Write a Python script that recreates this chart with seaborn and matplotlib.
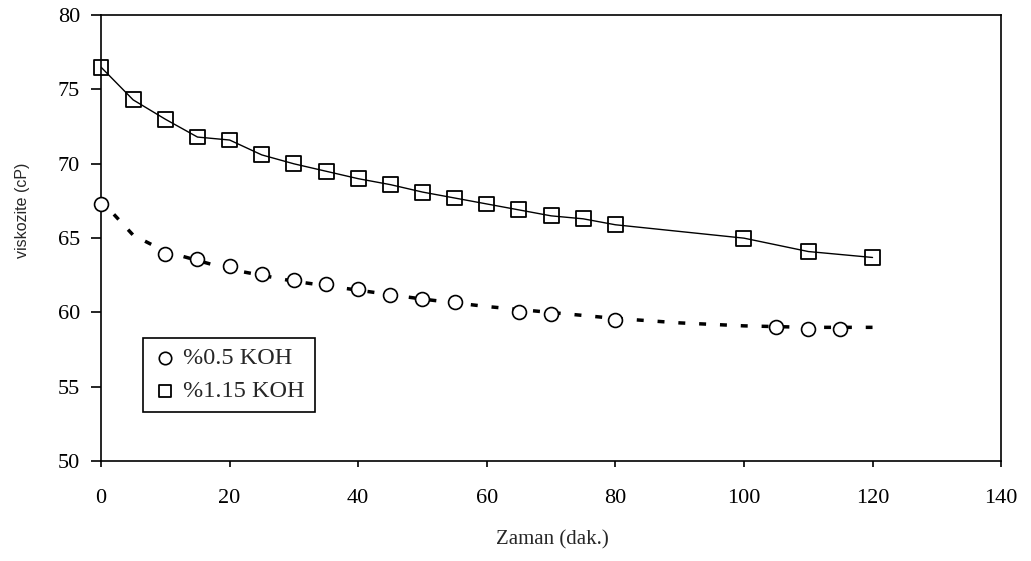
import matplotlib
matplotlib.use('Agg')
import matplotlib.pyplot as plt
import seaborn as sns

# %0.5 KOH olcum noktalari
time_05 = [0, 10, 15, 20, 25, 30, 35, 40, 45, 50, 55, 65, 70, 80, 105, 110, 115]
visc_05 = [67.3, 63.9, 63.6, 63.1, 62.6, 62.2, 61.9, 61.6, 61.2, 60.9, 60.7, 60.0, 59.9, 59.5, 59.0, 58.9, 58.9]

# %0.5 KOH egilim cizgisi (kesikli)
trend_x = [2, 5, 10, 20, 30, 40, 50, 60, 70, 80, 90, 100, 110, 120]
trend_y = [66.6, 65.2, 64.1, 62.9, 62.1, 61.5, 60.9, 60.4, 60.0, 59.6, 59.3, 59.1, 59.0, 59.0]

# %1.15 KOH olcum noktalari
time_115 = [0, 5, 10, 15, 20, 25, 30, 35, 40, 45, 50, 55, 60, 65, 70, 75, 80, 100, 110, 120]
visc_115 = [76.5, 74.3, 73.0, 71.8, 71.6, 70.6, 70.0, 69.5, 69.0, 68.6, 68.1, 67.7, 67.3, 66.9, 66.5, 66.3, 65.9, 65.0, 64.1, 63.7]

x_ticks = [0, 20, 40, 60, 80, 100, 120, 140]
y_ticks = [50, 55, 60, 65, 70, 75, 80]

sns.set_style('ticks')
plt.rcParams['font.family'] = ['Liberation Serif', 'DejaVu Serif']

fig = plt.figure(figsize=(10.31, 5.61), dpi=100)
ax = fig.add_axes([0.098, 0.178, 0.873, 0.795])

# cizgiler
sns.lineplot(x=trend_x, y=trend_y, color='black', linewidth=2.5,
             linestyle=(0, (2, 4)), ax=ax)
sns.lineplot(x=time_115, y=visc_115, color='black', linewidth=1.0, ax=ax)

# noktalar
sns.scatterplot(x=time_05, y=visc_05, marker='o', s=100, facecolor='white',
                edgecolor='black', linewidth=1.2, label='%0.5 KOH', ax=ax,
                zorder=3, clip_on=False)
sns.scatterplot(x=time_115, y=visc_115, marker='s', s=115, facecolor='none',
                edgecolor='black', linewidth=1.3, label='%1.15 KOH', ax=ax,
                zorder=3, clip_on=False)

ax.set_xlim(0, 140)
ax.set_ylim(50, 80)
ax.set_xticks(x_ticks)
ax.set_yticks(y_ticks)
ax.tick_params(axis='both', labelsize=16, direction='out', width=1.2, colors='black')
ax.tick_params(axis='y', length=7, pad=8)
ax.tick_params(axis='x', length=4, pad=16)
for s in ax.spines.values():
    s.set_visible(True)
    s.set_color('black')
    s.set_linewidth(1.2)

ax.set_xlabel('Zaman (dak.)', fontsize=15, va='top')
ax.xaxis.set_label_coords(0.502, -0.155)
ax.set_ylabel('viskozite (cP)', fontsize=11.5, family=['Liberation Sans', 'DejaVu Sans'],
              va='center')
ax.yaxis.set_label_coords(-0.087, 0.563)

leg = ax.legend(loc='lower left', bbox_to_anchor=(0.047, 0.11), fontsize=17.5,
                frameon=True, fancybox=False, edgecolor='black', framealpha=1,
                handletextpad=0.25, borderpad=0.4, labelspacing=0.45, handlelength=1.0,
                borderaxespad=0)
leg.get_frame().set_linewidth(1.2)
for h in leg.legend_handles:
    h.set_sizes([80])

fig.savefig('out.png', dpi=100)
